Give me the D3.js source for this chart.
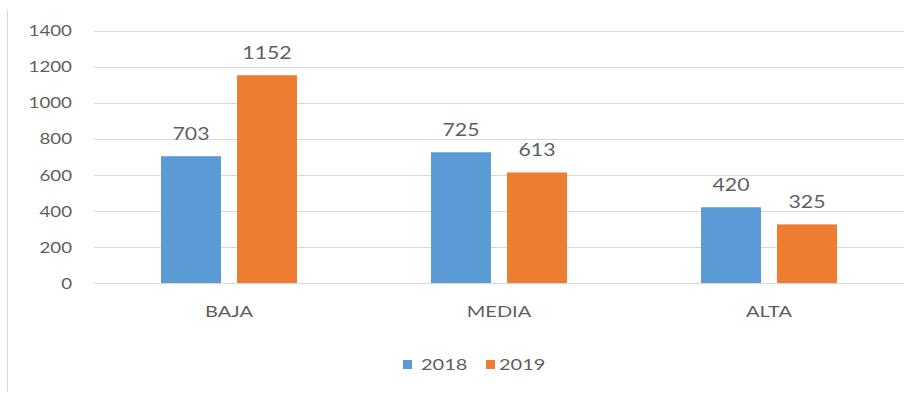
<!DOCTYPE html>
<html>
<head>
<meta charset="utf-8">
<script src="https://cdn.jsdelivr.net/npm/d3@7"></script>
<style>
  html, body { margin: 0; padding: 0; background: #fff; }
  svg { display: block; }
  text { font-family: Lato, "Open Sans", "Liberation Sans", sans-serif; fill: #5f5f5f; }
</style>
</head>
<body>
<svg id="chart" width="905" height="396"></svg>
<script>
// Chart data
const categories = ["BAJA", "MEDIA", "ALTA"];
const seriesNames = ["2018", "2019"];
const values2018 = [703, 725, 420];
const values2019 = [1152, 613, 325];
const yTicks = [0, 200, 400, 600, 800, 1000, 1200, 1400];
const colors = ["#5B9BD5", "#ED7D31"];

const seriesValues = [values2018, values2019];
const svg = d3.select("#chart");
const sx = 1.25; // horizontal stretch of the lettering

function stretched(sel, x, y) {
  sel.attr("transform", `translate(${x},${y}) scale(${sx},1)`);
}

// Frame line on the left edge
svg.append("line")
  .attr("x1", 7.5).attr("x2", 7.5)
  .attr("y1", 10).attr("y2", 392)
  .attr("stroke", "#d9d9d9").attr("stroke-width", 1);

const y = d3.scaleLinear().domain([0, 1400]).range([283, 30.5]);
const x0 = d3.scaleBand().domain(categories).range([94, 904]).paddingInner(0).paddingOuter(0);
const x1 = d3.scaleBand().domain(seriesNames)
  .range([x0.bandwidth() / 2 - 68, x0.bandwidth() / 2 + 68])
  .paddingInner(16 / 76).paddingOuter(0);

// Gridlines
svg.append("g").selectAll("line").data(yTicks).join("line")
  .attr("x1", 94).attr("x2", 904)
  .attr("y1", d => Math.round(y(d)) + 0.5).attr("y2", d => Math.round(y(d)) + 0.5)
  .attr("stroke", "#d9d9d9").attr("stroke-width", 1);

// Y tick labels
svg.append("g").selectAll("text").data(yTicks).join("text")
  .attr("text-anchor", "end")
  .attr("dominant-baseline", "central")
  .style("font-size", "15px")
  .text(d => d)
  .each(function(d) { stretched(d3.select(this), 72, y(d)); });

// Bars and value labels
const groups = svg.append("g").selectAll("g").data(categories).join("g")
  .attr("transform", d => `translate(${x0(d)},0)`);

groups.selectAll("rect")
  .data((c, i) => seriesNames.map((s, j) => ({ s, v: seriesValues[j][i], j })))
  .join("rect")
  .attr("x", d => x1(d.s))
  .attr("width", x1.bandwidth())
  .attr("y", d => y(d.v))
  .attr("height", d => y(0) - y(d.v))
  .attr("fill", d => colors[d.j]);

groups.selectAll("text.val")
  .data((c, i) => seriesNames.map((s, j) => ({ s, v: seriesValues[j][i], j })))
  .join("text")
  .attr("class", "val")
  .attr("text-anchor", "middle")
  .style("font-size", "17px")
  .text(d => d.v)
  .each(function(d) { stretched(d3.select(this), x1(d.s) + x1.bandwidth() / 2, y(d.v) - 16); });

// Category labels
svg.append("g").selectAll("text").data(categories).join("text")
  .attr("text-anchor", "middle")
  .style("font-size", "16px")
  .text(d => d)
  .each(function(d) { stretched(d3.select(this), x0(d) + x0.bandwidth() / 2, 317); });

// Legend
const legendItems = [
  { name: seriesNames[0], color: colors[0], sq: 403, tx: 421 },
  { name: seriesNames[1], color: colors[1], sq: 486, tx: 499 }
];
const lg = svg.append("g");
lg.selectAll("rect").data(legendItems).join("rect")
  .attr("x", d => d.sq).attr("y", 360)
  .attr("width", 9).attr("height", 9)
  .attr("fill", d => d.color);
lg.selectAll("text").data(legendItems).join("text")
  .style("font-size", "16px")
  .text(d => d.name)
  .each(function(d) { stretched(d3.select(this), d.tx, 370); });
</script>
</body>
</html>
